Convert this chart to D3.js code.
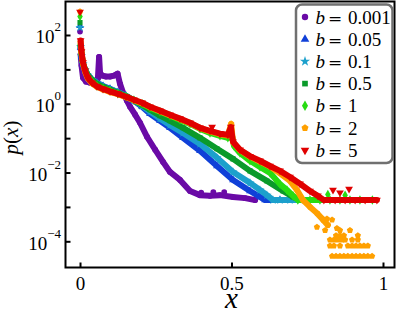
<!doctype html>
<html>
<head>
<meta charset="utf-8">
<title>p(x) for several b</title>
<script src="https://d3js.org/d3.v7.min.js"></script>
<style>
  body { margin: 0; background: #fff; }
  text { font-family: "Liberation Serif", "DejaVu Serif", serif; fill: #000; }
</style>
</head>
<body>
<svg id="chart" width="399" height="313"></svg>
<script>

// b values of each series (legend order)
let bLabels = ["0.001", "0.05", "0.1", "0.5", "1", "2", "5"];

// p at x = 0 (first bin) for each series
let pAtZero = [126, 186, 165, 229, 347, 480, 470];

// b = 0.001
let x0001 = [.002,.005,.010,.020,.033,.050,.059,.063,.066,.073,.086,.099,.112,.124,.132,.142,.155,.165,.182,.198,.221,.248,.274,.297,.330,.363,.396,.429,.462,.505,.545,.578];
let p0001 = [27,12.9,5.7,4.4,4.1,4.4,5.4,23,8,6.6,6.2,6.2,6.6,7.5,3.8,2.09,1.22,.82,.48,.28,.110,.046,.0204,.0104,.0061,.0029,.0022,.0021,.0022,.00195,.0018,.00158];
let xOut0001 = [.400,.440,.476];
let pOut0001 = [.0026,.0027,.0027];

// b = 0.05
let x005 = [.002,.005,.010,.017,.026,.040,.056,.076,.099,.125,.152,.178,.205,.231,.264,.297,.340,.396,.452,.505,.561,.594,.611,.660,.700];
let p005 = [43,23,13.8,9.5,6.8,5.0,4.1,3.3,2.74,2.17,1.65,1.22,.82,.51,.32,.20,.102,.043,.0156,.0061,.0029,.00195,.00158,.00158,.00158];

// b = 0.1
let x01 = [.002,.005,.010,.017,.026,.040,.056,.076,.099,.125,.152,.178,.205,.231,.264,.297,.340,.396,.452,.505,.561,.594,.617,.637,.660,.693,.726];
let p01 = [46,25,14.7,9.8,6.8,5.0,4.0,3.2,2.65,2.17,1.71,1.26,.87,.59,.37,.24,.142,.068,.027,.0104,.0050,.0031,.0022,.00158,.00158,.00158,.00158];

// b = 0.5
let x05 = [.002,.005,.010,.017,.026,.040,.056,.076,.099,.125,.152,.178,.205,.231,.264,.297,.340,.396,.452,.505,.561,.617,.670,.703,.726,.759,.792,.825];
let p05 = [49,27,14.7,9.8,6.6,4.9,3.8,3.1,2.57,2.09,1.65,1.26,.93,.67,.45,.32,.20,.102,.049,.025,.0112,.0057,.0029,.00195,.00158,.00158,.00158,.00158];

// b = 1
let x1 = [.002,.005,.010,.017,.026,.040,.056,.076,.099,.125,.152,.178,.205,.231,.264,.297,.330,.363,.396,.429,.462,.488,.498,.508,.528,.561,.594,.627,.660,.683,.703,.719,.759,.792,.825,.858,.891,.924,.965];
let p1 = [52,29,14.7,9.1,6.1,4.4,3.3,2.8,2.4,1.95,1.6,1.26,1.0,.76,.59,.45,.34,.26,.186,.142,.117,.102,.174,.060,.037,.022,.0145,.0098,.0046,.0031,.0021,.00158,.00158,.00158,.00158,.00158,.00158,.00158,.00158];
let xOut1 = [.818,.875];
let pOut1 = [.0023,.0022];

// b = 2
let x2 = [.002,.005,.010,.017,.026,.040,.056,.076,.099,.125,.152,.178,.205,.231,.264,.297,.330,.363,.396,.429,.462,.488,.499,.505,.528,.561,.594,.627,.660,.693,.716,.736,.759,.782,.802,.818];
let p2 = [62,30,14.5,8.5,5.4,3.9,3.1,2.6,2.2,1.9,1.55,1.28,1.04,.80,.61,.46,.36,.27,.195,.158,.13,.12,.26,.076,.045,.029,.021,.015,.0095,.0057,.0031,.00158,.001,.00066,.00042,.000295];
// scattered tail of b = 2 (single, double, triple... counts)
let xOut2 = [.782,.809,.832,.799,.815,.848,.858,.891,
             .845,.858,.871,.917,
             .825,.838,.851,.865,.875,.898,.917,
             .825,.838,.858,.884,.898,.911,.924,.937,.950,
             .832,.845,.858,.871,.884,.898,.911,.924,.937,.950,.964];
let pOut2 = [2.6e-4,2.1e-4,4.2e-4,4.7e-4,4.5e-4,2.4e-4,2.1e-4,2.1e-4,
             1.48e-4,1.48e-4,1.48e-4,1.48e-4,
             1.11e-4,1.11e-4,1.11e-4,1.11e-4,1.11e-4,1.11e-4,1.11e-4,
             7.4e-5,7.4e-5,7.4e-5,7.4e-5,7.4e-5,7.4e-5,7.4e-5,7.4e-5,7.4e-5,
             3.7e-5,3.7e-5,3.7e-5,3.7e-5,3.7e-5,3.7e-5,3.7e-5,3.7e-5,3.7e-5,3.7e-5,3.7e-5];

// b = 5
let x5 = [.002,.005,.010,.017,.026,.040,.056,.076,.099,.125,.152,.178,.205,.231,.264,.297,.330,.363,.396,.429,.462,.488,.498,.505,.528,.561,.594,.627,.660,.693,.726,.759,.785,.805,.842,.875,.908,.941,.980];
let p5 = [69,33,15.8,9.1,5.7,4.1,3.2,2.7,2.3,1.95,1.6,1.31,1.07,.82,.63,.48,.37,.28,.20,.163,.135,.125,.21,.078,.046,.030,.022,.0155,.0112,.0074,.0047,.0029,.0021,.00158,.00158,.00158,.00158,.00158,.00158];
let xOut5 = [.436,.835,.858,.888];
let pOut5 = [.21,.0031,.0026,.0033];

// axis ticks
let xTicks = [0, 0.5, 1];
let yMajor = [1e2, 1, 1e-2, 1e-4];
let yMinor = [10, 0.1, 1e-3];
let yExp = {"100": "2", "1": "0", "0.01": "\u22122", "0.0001": "\u22124"};

// pentagon marker (d3 has none)
let symbolPentagon = {
  draw(ctx, size) {
    let r = Math.sqrt(size / 2.3776);
    for (let i = 0; i < 5; i++) {
      let a = -Math.PI / 2 + i * 2 * Math.PI / 5;
      if (i === 0) ctx.moveTo(r * Math.cos(a), r * Math.sin(a));
      else ctx.lineTo(r * Math.cos(a), r * Math.sin(a));
    }
    ctx.closePath();
  }
};

let colors = ["#6a0aa6", "#1040d8", "#1ca0cc", "#0a9a2a", "#28dc12", "#ffa000", "#e00000"];
let symbols = [d3.symbolCircle, d3.symbolTriangle, d3.symbolStar, d3.symbolSquare, d3.symbolDiamond, symbolPentagon, d3.symbolTriangle];
let rotations = [0, 0, 0, 0, 0, 0, 180];

let series = [
  {xs: x0001, ps: p0001, ox: xOut0001, op: pOut0001},
  {xs: x005, ps: p005, ox: [], op: []},
  {xs: x01, ps: p01, ox: [], op: []},
  {xs: x05, ps: p05, ox: [], op: []},
  {xs: x1, ps: p1, ox: xOut1, op: pOut1},
  {xs: x2, ps: p2, ox: xOut2, op: pOut2},
  {xs: x5, ps: p5, ox: xOut5, op: pOut5}
];

let svg = d3.select("#chart");
let pLeft = 65.5, pRight = 394.5, pTop = 1.5, pBottom = 267.5;

let x = d3.scaleLinear().domain([-0.0479, 1.038]).range([pLeft, pRight]);
let y = d3.scaleLog().domain([1.73e-5, 942]).range([pBottom, pTop]);

svg.append("clipPath").attr("id", "clip")
  .append("rect").attr("x", pLeft).attr("y", pTop).attr("width", pRight - pLeft).attr("height", pBottom - pTop);

let plot = svg.append("g").attr("clip-path", "url(#clip)");

let line = d3.line().x(d => x(d[0])).y(d => y(d[1]));

series.forEach(function(s, i) {
  let pts = s.xs.map((v, k) => [v, s.ps[k]]);
  let extra = s.ox.map((v, k) => [v, s.op[k]]);
  extra.push([0, pAtZero[i]]);
  let g = plot.append("g");
  g.append("path")
    .datum(pts)
    .attr("d", line)
    .attr("fill", "none")
    .attr("stroke", colors[i])
    .attr("stroke-width", 6)
    .attr("stroke-linejoin", "round")
    .attr("stroke-linecap", "round");
  g.selectAll("path.mk")
    .data(pts.concat(extra))
    .enter().append("path")
      .attr("class", "mk")
      .attr("d", d3.symbol().type(symbols[i]).size(26))
      .attr("transform", d => "translate(" + x(d[0]) + "," + y(d[1]) + ") rotate(" + rotations[i] + ")")
      .attr("fill", colors[i]);
});

// axes
let xAxis = svg.append("g")
  .attr("transform", "translate(0," + pBottom + ")")
  .call(d3.axisBottom(x).tickValues(xTicks).tickSize(-5).tickPadding(0).tickFormat(d => d));
xAxis.select(".domain").remove();
xAxis.selectAll(".tick line").attr("stroke", "#000").attr("stroke-width", 2);
xAxis.selectAll(".tick text")
  .attr("y", 22).attr("dy", 0)
  .style("font-size", "19px");

let yAxis = svg.append("g")
  .attr("transform", "translate(" + pLeft + ",0)")
  .call(d3.axisLeft(y).tickValues(yMajor.concat(yMinor)).tickSize(-5).tickPadding(5).tickFormat(""));
yAxis.select(".domain").remove();
yAxis.selectAll(".tick line").attr("stroke", "#000").attr("stroke-width", 2);
yAxis.selectAll(".tick").filter(d => yMajor.includes(d))
  .select("text")
    .attr("dy", 8)
    .attr("x", -4.5)
    .style("font-size", "19px")
    .each(function(d) {
      let t = d3.select(this);
      t.text(null);
      t.append("tspan").text("10");
      t.append("tspan").attr("dy", -12).style("font-size", "13px").text(yExp[String(d)]);
    });

// frame
svg.append("rect")
  .attr("x", pLeft).attr("y", pTop)
  .attr("width", pRight - pLeft).attr("height", pBottom - pTop)
  .attr("fill", "none").attr("stroke", "#000").attr("stroke-width", 2);

// axis titles
svg.append("text")
  .attr("x", x(0.5)).attr("y", 308)
  .attr("text-anchor", "middle")
  .style("font-size", "29px").style("font-style", "italic")
  .text("x");

let yl = svg.append("text")
  .attr("transform", "translate(18,137.5) rotate(-90)")
  .attr("text-anchor", "middle")
  .style("font-size", "21px");
yl.append("tspan").style("font-style", "italic").text("p");
yl.append("tspan").text("(");
yl.append("tspan").style("font-style", "italic").text("x");
yl.append("tspan").text(")");

// legend
let leg = svg.append("g");
leg.append("rect")
  .attr("x", 296).attr("y", 4.5).attr("width", 96.5).attr("height", 158.5)
  .attr("rx", 6).attr("fill", "#fff")
  .attr("stroke", "#707070").attr("stroke-width", 2.5);

bLabels.forEach(function(b, i) {
  let cy = 17 + i * 22.2;
  leg.append("path")
    .attr("d", d3.symbol().type(symbols[i]).size(32))
    .attr("transform", "translate(305," + cy + ") rotate(" + rotations[i] + ")")
    .attr("fill", colors[i]);
  let t = leg.append("text").attr("y", cy + 6.5).style("font-size", "19px");
  t.append("tspan").attr("x", 315.5).style("font-style", "italic").text("b");
  t.append("tspan").attr("x", 328).style("font-family", "DejaVu Serif").style("font-size", "17px").text("=");
  t.append("tspan").attr("x", 348).text(b);
});

</script>
</body>
</html>
